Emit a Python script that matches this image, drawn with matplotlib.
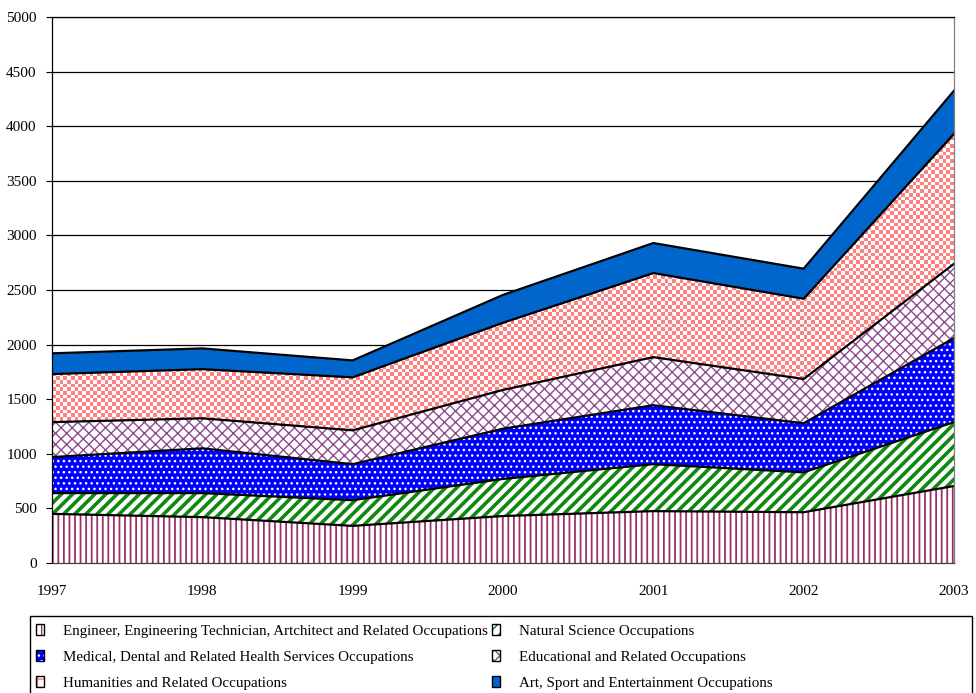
import matplotlib
matplotlib.use('Agg')
import matplotlib.pyplot as plt
import numpy as np
from matplotlib.patches import Patch, Rectangle

# ============================================================
# DATA (stacked area)
# ============================================================
years = [1997, 1998, 1999, 2000, 2001, 2002, 2003]

engineer = [450, 420, 340, 430, 475, 465, 705]
natural = [190, 220, 235, 340, 430, 365, 585]
medical = [330, 410, 330, 460, 540, 450, 770]
educational = [320, 275, 310, 355, 440, 405, 680]
humanities = [440, 450, 485, 615, 770, 735, 1190]
art = [190, 190, 155, 255, 275, 275, 395]

labels = [
    "Engineer, Engineering Technician, Artchitect and Related Occupations",
    "Natural Science Occupations",
    "Medical, Dental and Related Health Services Occupations",
    "Educational and Related Occupations",
    "Humanities and Related Occupations",
    "Art, Sport and Entertainment Occupations",
]
series = [engineer, natural, medical, educational, humanities, art]

# (facecolor, hatch colour, hatch, hatch linewidth)
STYLES = [
    ('white', '#993366', '|||', 1.3),
    ('white', '#118811', '///', 2.6),
    ('#0000FF', 'white', '...', 1.0),
    ('white', '#8E4A8E', 'xxx', 1.0),
    (None, None, None, None),          # checkerboard drawn as an image
    ('#0066CC', '#0066CC', None, 1.0),
]
CHECKER = ('#FF8080', 'white')

# ============================================================
# STYLE
# ============================================================
plt.rcParams.update({
    'font.family': ['Liberation Serif', 'DejaVu Serif'],
    'font.size': 11,
    'figure.facecolor': 'white',
})

fig = plt.figure(figsize=(9.76, 6.93), dpi=100)
ax = fig.add_axes([52 / 976, 1 - 563 / 693, 902 / 976, 546 / 693])

x = np.array(years, dtype=float)
bottom = np.zeros(len(years))

for vals, lab, (fc, hc, hatch, hlw) in zip(series, labels, STYLES):
    top = bottom + np.array(vals, dtype=float)
    if fc is None:
        poly = ax.fill_between(x, bottom, top, facecolor='none', edgecolor='none', zorder=2)
        ny, nx = 146, 240
        yy, xx = np.mgrid[0:ny, 0:nx]
        chk = ((yy + xx) % 2).astype(float)
        cmap = matplotlib.colors.ListedColormap(list(CHECKER))
        im = ax.imshow(chk, extent=(years[0], years[-1], 0, 5000), aspect='auto',
                       interpolation='nearest', cmap=cmap, origin='lower', zorder=2)
        im.set_clip_path(poly.get_paths()[0], transform=ax.transData)
    else:
        with plt.rc_context({'hatch.linewidth': hlw}):
            coll = ax.fill_between(x, bottom, top, facecolor=fc, edgecolor=hc,
                                   hatch=hatch, linewidth=0, zorder=2)
        if hasattr(coll, 'set_hatch_linewidth'):
            coll.set_hatch_linewidth(hlw)
    ax.plot(x, top, color='black', lw=1.6, zorder=4, solid_joinstyle='miter')
    bottom = top

ax.set_xlim(years[0], years[-1])
ax.set_ylim(0, 5000)
ax.set_yticks(np.arange(0, 5001, 500))
ax.set_xticks(years)
ax.yaxis.grid(True, color='black', lw=0.9, zorder=0)
ax.set_axisbelow(True)

ax.tick_params(axis='y', direction='out', length=4, width=0.8, pad=7, labelsize=11)
ax.tick_params(axis='x', direction='in', length=4, width=0.8, pad=16, labelsize=11)
ax.spines['left'].set_color('black')
ax.spines['bottom'].set_color('#404040')
ax.spines['right'].set_color('#808080')
ax.spines['top'].set_color('black')
for s in ax.spines.values():
    s.set_linewidth(0.9)
    s.set_zorder(5)

# ============================================================
# LEGEND (row-major in reference, matplotlib fills columns first)
# ============================================================
def proxy(i):
    fc, hc, hatch, hlw = STYLES[i]
    if fc is None:
        inner = Patch(facecolor='white', edgecolor=CHECKER[0], hatch='++', linewidth=0)
    else:
        inner = Patch(facecolor=fc, edgecolor=hc, hatch=hatch, linewidth=0)
    return (inner, Patch(facecolor='none', edgecolor='black', linewidth=1.0))

order = [0, 2, 4, 1, 3, 5]
fig.legend([proxy(i) for i in order], [labels[i] for i in order],
           ncol=2, loc='upper left', bbox_to_anchor=(36 / 976, 1 - 624 / 693),
           frameon=False, fontsize=10.8, handlelength=0.55, handleheight=0.8,
           handletextpad=1.25, labelspacing=0.8, columnspacing=0.25,
           borderpad=0.0, borderaxespad=0.0)
fig.patches.append(Rectangle((30 / 976, -0.01), 942 / 976, 1 - 616 / 693 + 0.01,
                             transform=fig.transFigure, facecolor='none',
                             edgecolor='black', linewidth=1.0))

plt.savefig('out.png', dpi=100, facecolor='white')
plt.close()
print("Saved: out.png")
